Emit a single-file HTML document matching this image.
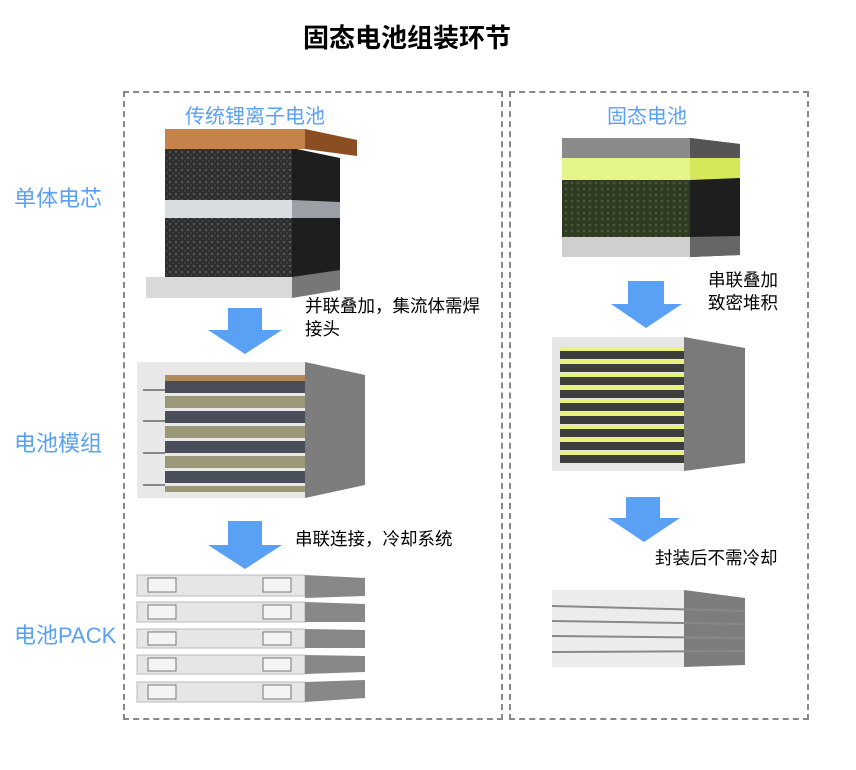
<!DOCTYPE html>
<html><head><meta charset="utf-8"><style>
body{margin:0;width:856px;height:770px;background:#fff;position:relative;overflow:hidden;font-family:"Liberation Sans","Noto Sans CJK SC",sans-serif}
.a{position:absolute}
.t{position:absolute;white-space:nowrap}
.blue{color:#5aa0f5}
.box{position:absolute;border:2.5px dashed #888;box-sizing:border-box}
</style></head><body>
<div class="t" style="left:303px;top:18px;font-size:26px;font-weight:bold;color:#000;letter-spacing:0px">固态电池组装环节</div>
<div class="box" style="left:123px;top:91px;width:380px;height:629px"></div>
<div class="box" style="left:509px;top:91px;width:300px;height:629px"></div>
<div class="t blue" style="left:185px;top:100px;font-size:20px">传统锂离子电池</div>
<div class="t blue" style="left:607px;top:100px;font-size:20px">固态电池</div>
<div class="t blue" style="left:14px;top:181px;font-size:22px">单体电芯</div>
<div class="t blue" style="left:14px;top:426px;font-size:22px">电池模组</div>
<div class="t blue" style="left:14px;top:618px;font-size:22px">电池PACK</div>
<div class="t" style="left:305px;top:295px;font-size:17.5px;line-height:23px">并联叠加，集流体需焊<br>接头</div>
<div class="t" style="left:295px;top:526px;font-size:17.5px">串联连接，冷却系统</div>
<div class="t" style="left:708px;top:269px;font-size:17.5px;line-height:23px">串联叠加<br>致密堆积</div>
<div class="t" style="left:655px;top:545px;font-size:17.5px">封装后不需冷却</div>
<svg class="a" style="left:0;top:0" width="856" height="770">
<defs>
<pattern id="dk" width="6" height="6" patternUnits="userSpaceOnUse"><rect width="6" height="6" fill="#2e2e2e"/><circle cx="2" cy="2" r="1.3" fill="#555"/><circle cx="5" cy="5" r="1" fill="#444"/></pattern>
<pattern id="gr" width="6" height="6" patternUnits="userSpaceOnUse"><rect width="6" height="6" fill="#2f3a22"/><circle cx="2" cy="3" r="1.3" fill="#4c5a33"/></pattern>
</defs>
<g fill="#5aa0f5">
<polygon points="228,308 262,308 262,330 282,330 245,354 208,330 228,330"/>
<polygon points="228,521 262,521 262,545 282,545 245,569 208,545 228,545"/>
<polygon points="628,281 664,281 664,304 682,304 646,328 611,304 628,304"/>
<polygon points="626,497 660,497 660,518 680,518 644,542 608,518 626,518"/>
</g>
<polygon points="292,148 340,158 340,275 292,277" fill="#1e1e1e"/>
<rect x="165" y="148" width="127" height="129" fill="url(#dk)"/>
<rect x="165" y="200" width="127" height="18" fill="#d8dde2"/>
<polygon points="292,200 340,202 340,218 292,218" fill="#9aa0a6"/>
<rect x="165" y="129" width="140" height="20" fill="#c4834a"/>
<polygon points="305,129 357,140 357,156 305,149" fill="#8a4e22"/>
<rect x="146" y="277" width="146" height="21" fill="#d9d9d9"/>
<polygon points="292,277 340,270 340,290 292,298" fill="#777"/>
<rect x="137" y="362" width="168" height="136" fill="#e8e8e8"/>
<polygon points="305,362 365,375 365,485 305,498" fill="#7d7d7d"/>
<g>
<rect x="165" y="375" width="140" height="6" fill="#b08a5a"/>
<rect x="165" y="381" width="140" height="12" fill="#4a4e58"/>
<rect x="165" y="396" width="140" height="12" fill="#9a9878"/>
<rect x="165" y="411" width="140" height="12" fill="#4a4e58"/>
<rect x="165" y="426" width="140" height="12" fill="#9a9878"/>
<rect x="165" y="441" width="140" height="12" fill="#4a4e58"/>
<rect x="165" y="456" width="140" height="12" fill="#9a9878"/>
<rect x="165" y="471" width="140" height="12" fill="#4a4e58"/>
<rect x="165" y="486" width="140" height="6" fill="#9a9878"/>
</g>
<g stroke="#888" stroke-width="2"><line x1="143" y1="390" x2="165" y2="390"/><line x1="143" y1="421" x2="165" y2="421"/><line x1="143" y1="453" x2="165" y2="453"/><line x1="143" y1="485" x2="165" y2="485"/></g>
<g>
<rect x="137" y="575" width="168" height="21" fill="#e6e6e6" stroke="#bbb"/><polygon points="305,575 365,578 365,596 305,598" fill="#888"/>
<rect x="137" y="602" width="168" height="20" fill="#e6e6e6" stroke="#bbb"/><polygon points="305,602 365,604 365,622 305,622" fill="#888"/>
<rect x="137" y="629" width="168" height="19" fill="#e6e6e6" stroke="#bbb"/><polygon points="305,629 365,630 365,648 305,648" fill="#888"/>
<rect x="137" y="655" width="168" height="19" fill="#e6e6e6" stroke="#bbb"/><polygon points="305,655 365,656 365,672 305,674" fill="#888"/>
<rect x="137" y="682" width="168" height="20" fill="#e6e6e6" stroke="#bbb"/><polygon points="305,682 365,680 365,698 305,702" fill="#888"/>
</g>
<g fill="#f4f4f4" stroke="#777"><rect x="148" y="578" width="28" height="14"/><rect x="263" y="578" width="28" height="14"/><rect x="148" y="605" width="28" height="14"/><rect x="263" y="605" width="28" height="14"/><rect x="148" y="632" width="28" height="13"/><rect x="263" y="632" width="28" height="13"/><rect x="148" y="658" width="28" height="13"/><rect x="263" y="658" width="28" height="13"/><rect x="148" y="685" width="28" height="14"/><rect x="263" y="685" width="28" height="14"/></g>
<rect x="562" y="138" width="128" height="20" fill="#8a8a8a"/>
<rect x="562" y="158" width="128" height="22" fill="#e6f58a"/>
<rect x="562" y="180" width="128" height="57" fill="url(#gr)"/>
<rect x="562" y="237" width="128" height="20" fill="#cfcfcf"/>
<polygon points="690,138 740,144 740,255 690,257" fill="#1e1e1e"/>
<polygon points="690,138 740,144 740,158 690,158" fill="#555"/>
<polygon points="690,158 740,158 740,178 690,180" fill="#d5e85a"/>
<polygon points="690,237 740,236 740,255 690,257" fill="#666"/>
<rect x="552" y="337" width="132" height="134" fill="#e6e6e6"/>
<polygon points="684,337 745,348 745,463 684,471" fill="#7a7a7a"/>
<g fill="#3d3d3d">
<rect x="560" y="347" width="124" height="12"/><rect x="560" y="360" width="124" height="12"/><rect x="560" y="373" width="124" height="12"/><rect x="560" y="386" width="124" height="12"/><rect x="560" y="399" width="124" height="12"/><rect x="560" y="412" width="124" height="12"/><rect x="560" y="425" width="124" height="12"/><rect x="560" y="438" width="124" height="12"/><rect x="560" y="451" width="124" height="12"/>
</g>
<g fill="#e8f27a"><rect x="560" y="347" width="124" height="4"/><rect x="560" y="360" width="124" height="4"/><rect x="560" y="373" width="124" height="4"/><rect x="560" y="386" width="124" height="4"/><rect x="560" y="399" width="124" height="4"/><rect x="560" y="412" width="124" height="4"/><rect x="560" y="425" width="124" height="4"/><rect x="560" y="438" width="124" height="4"/><rect x="560" y="451" width="124" height="4"/></g>
<rect x="552" y="590" width="132" height="77" fill="#ececec"/>
<polygon points="684,590 745,598 745,665 684,667" fill="#7d7d7d"/>
<g stroke="#888" stroke-width="2"><line x1="552" y1="606" x2="745" y2="611"/><line x1="552" y1="621" x2="745" y2="624"/><line x1="552" y1="636" x2="745" y2="638"/><line x1="552" y1="652" x2="745" y2="651"/></g>
</svg>
</body></html>
